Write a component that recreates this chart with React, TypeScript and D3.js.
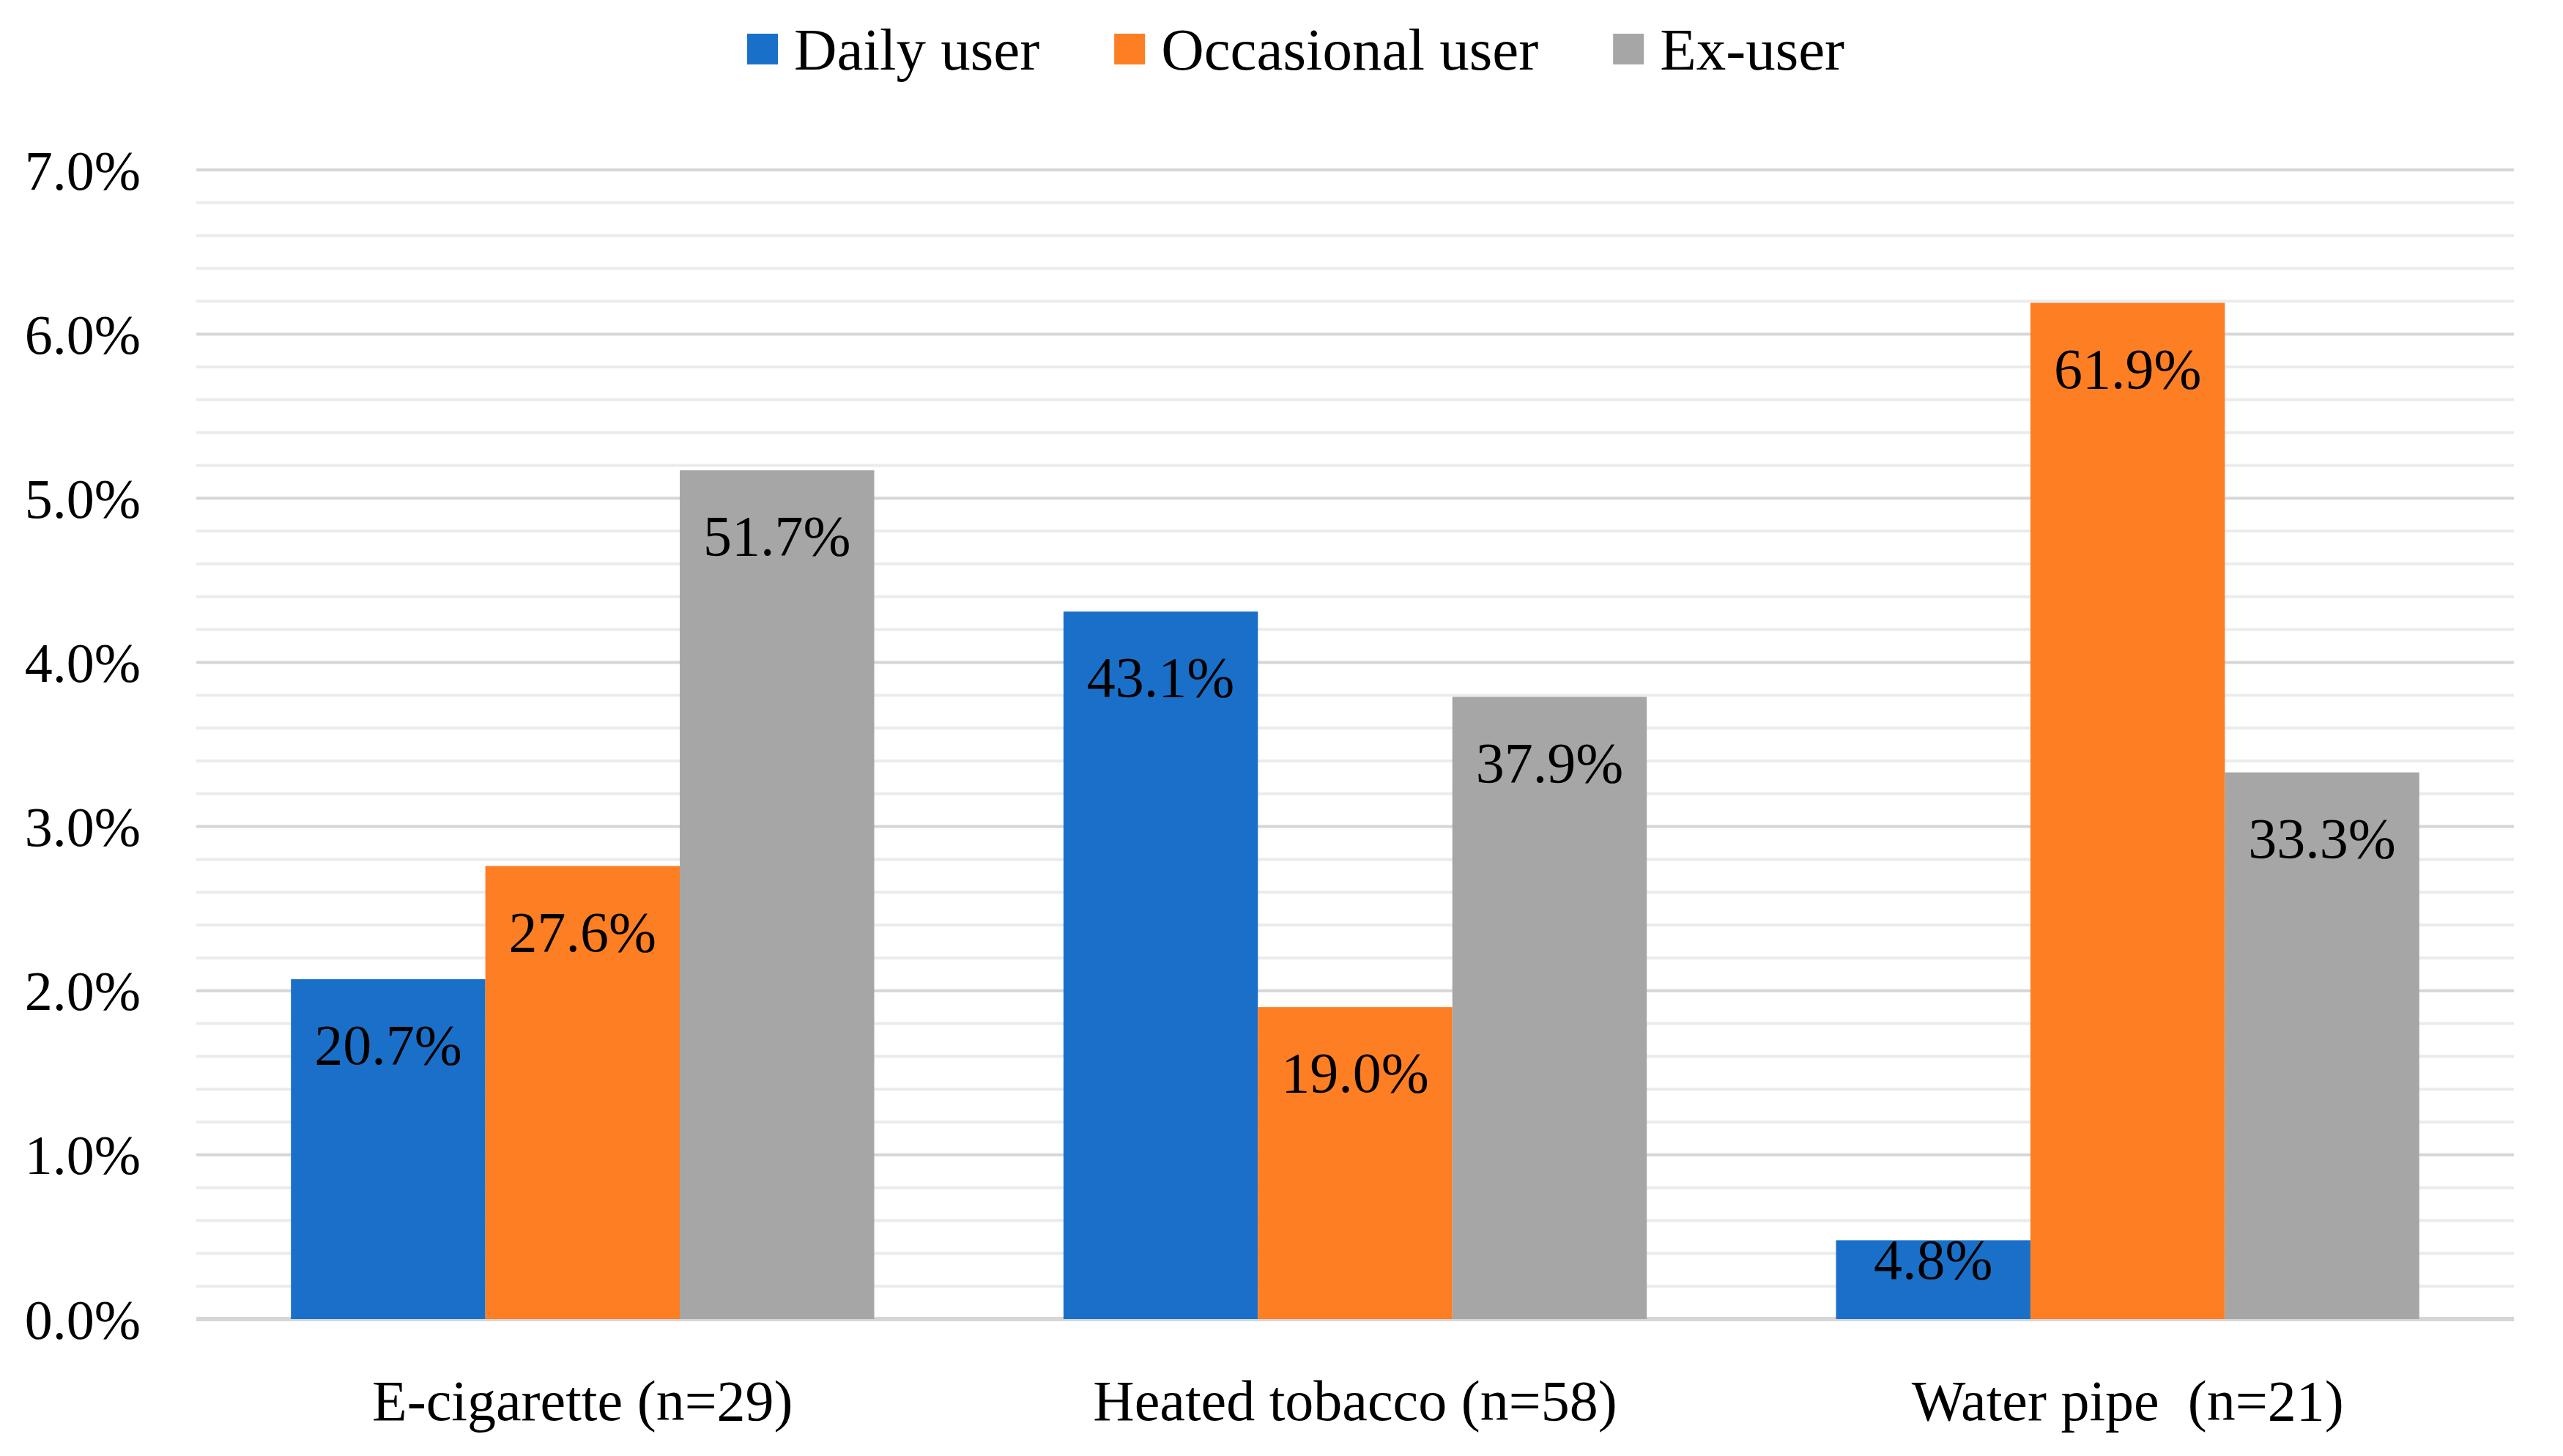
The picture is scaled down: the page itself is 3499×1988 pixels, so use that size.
import React, { useEffect, useRef, FC } from "react";
import * as d3 from "d3";

// chart data
const categories = ["E-cigarette (n=29)", "Heated tobacco (n=58)", "Water pipe  (n=21)"];
const seriesNames = ["Daily user", "Occasional user", "Ex-user"];
const dailyUser = [20.7, 43.1, 4.8];
const occasionalUser = [27.6, 19.0, 61.9];
const exUser = [51.7, 37.9, 33.3];
const yTickLabels = ["0.0%", "1.0%", "2.0%", "3.0%", "4.0%", "5.0%", "6.0%", "7.0%"];
const colors = ["#1a70c8", "#fd7e23", "#a6a6a6"];

const W = 3499;
const H = 1988;
const FONT = "'Liberation Serif', 'Times New Roman', serif";

const App: FC = () => {
  const ref = useRef<SVGSVGElement>(null);

  useEffect(() => {
    document.body.style.margin = "0";
    const svg = d3.select(ref.current);
    svg.html("");

    const margin = { left: 268, right: W - 3432, top: 232, bottom: H - 1801 };
    const series = [dailyUser, occasionalUser, exUser];
    const yMax = (yTickLabels.length - 1) * 10; // axis shows value/10

    const x0: any = d3
      .scaleBand()
      .domain(categories)
      .range([margin.left, W - margin.right])
      .paddingInner(0.245)
      .paddingOuter(0.1225);
    const x1: any = d3
      .scaleBand()
      .domain(seriesNames)
      .range([0, x0.bandwidth()])
      .padding(0);
    const y = d3
      .scaleLinear()
      .domain([0, yMax])
      .range([H - margin.bottom, margin.top]);

    // minor gridlines (every 0.2%)
    const minor = d3.range(0, yMax + 0.001, 2).filter((v) => v % 10 !== 0);
    svg
      .append("g")
      .selectAll("line")
      .data(minor)
      .join("line")
      .attr("x1", margin.left)
      .attr("x2", W - margin.right)
      .attr("y1", (d: any) => y(d))
      .attr("y2", (d: any) => y(d))
      .attr("stroke", "#ebebeb")
      .attr("stroke-width", 4);

    // major gridlines
    const major = yTickLabels.map((_, i) => i * 10);
    svg
      .append("g")
      .selectAll("line")
      .data(major)
      .join("line")
      .attr("x1", margin.left)
      .attr("x2", W - margin.right)
      .attr("y1", (d: any) => y(d))
      .attr("y2", (d: any) => y(d))
      .attr("stroke", "#d6d6d6")
      .attr("stroke-width", (d: any) => (d === 0 ? 6 : 4));

    // y tick labels
    svg
      .append("g")
      .selectAll("text")
      .data(yTickLabels)
      .join("text")
      .attr("x", 192)
      .attr("y", (d: any, i: number) => y(i * 10))
      .attr("dy", "0.35em")
      .attr("text-anchor", "end")
      .style("font-family", FONT)
      .style("font-size", "76px")
      .attr("fill", "#000")
      .text((d: any) => d);

    // bars
    const rows: any[] = [];
    categories.forEach((c, ci) => {
      seriesNames.forEach((s, si) => {
        rows.push({ cat: c, ser: s, si, value: series[si][ci] });
      });
    });
    const bars = svg.append("g").selectAll("g").data(rows).join("g");
    bars
      .append("rect")
      .attr("x", (d: any) => x0(d.cat) + x1(d.ser))
      .attr("y", (d: any) => y(d.value))
      .attr("width", x1.bandwidth())
      .attr("height", (d: any) => y(0) - y(d.value))
      .style("fill", (d: any) => colors[d.si]);

    // data labels
    bars
      .append("text")
      .attr("x", (d: any) => x0(d.cat) + x1(d.ser) + x1.bandwidth() / 2)
      .attr("y", (d: any) => {
        const h = y(0) - y(d.value);
        return y(d.value) + (h > 200 ? 89 : 25);
      })
      .attr("dy", "0.35em")
      .attr("text-anchor", "middle")
      .style("font-family", FONT)
      .style("font-size", "78px")
      .attr("fill", "#000")
      .text((d: any) => d.value.toFixed(1) + "%");

    // x labels
    svg
      .append("g")
      .selectAll("text")
      .data(categories)
      .join("text")
      .attr("x", (d: any) => x0(d) + x0.bandwidth() / 2)
      .attr("y", 1912)
      .attr("dy", "0.35em")
      .attr("text-anchor", "middle")
      .style("font-family", FONT)
      .style("font-size", "78px")
      .style("white-space", "pre")
      .attr("fill", "#000")
      .text((d: any) => d);

    // legend
    const LEGEND_Y = 67;
    const LEGEND_RECT = 42;
    const TEXT_GAP = 22;
    const ITEM_GAP = 102;
    const legend = svg.append("g");
    let lx = 1020;
    seriesNames.forEach((name, i) => {
      legend
        .append("rect")
        .attr("x", lx)
        .attr("y", LEGEND_Y - LEGEND_RECT / 2)
        .attr("width", LEGEND_RECT)
        .attr("height", LEGEND_RECT)
        .style("fill", colors[i]);
      const t = legend
        .append("text")
        .attr("x", lx + LEGEND_RECT + TEXT_GAP)
        .attr("y", LEGEND_Y)
        .attr("dy", "0.35em")
        .style("font-family", FONT)
        .style("font-size", "81px")
        .attr("fill", "#000")
        .text(name);
      const w = (t.node() as SVGTextElement).getComputedTextLength();
      lx += LEGEND_RECT + TEXT_GAP + w + ITEM_GAP;
    });
  }, []);

  return (
    <svg ref={ref} width={W} height={H} viewBox={`0 0 ${W} ${H}`} style={{ display: "block", background: "#fff" }}></svg>
  );
};

export default App;
